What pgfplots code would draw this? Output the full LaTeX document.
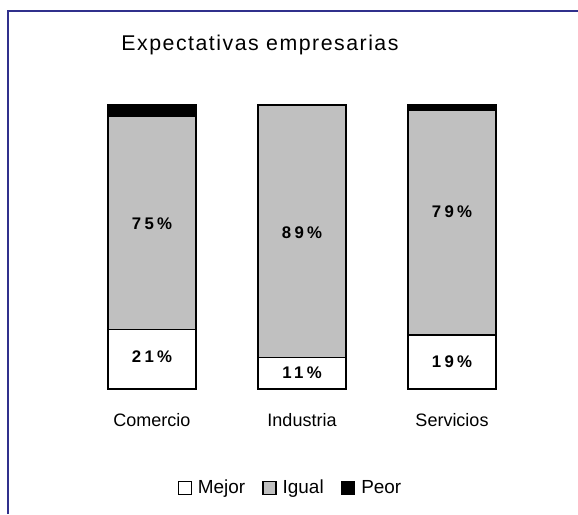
\documentclass[border=0pt]{standalone}
\usepackage{pgfplots}
\pgfplotsset{compat=1.18}
\usepackage{pgfplotstable}
\usepackage{fontspec}
\setmainfont{Liberation Sans}
\newfontfamily\titlefont[LetterSpace=7]{Liberation Sans}
\newfontfamily\labfont[LetterSpace=20]{Liberation Sans Bold}
\definecolor{igualgray}{RGB}{192,192,192}
\definecolor{framebl}{RGB}{48,48,140}
\pgfplotstableread{
x mejor igual peor
0 21 75 4
1 11 89 0
2 19 79 2
}\datatable
\pgfplotstableread{
x y lab
0 11.3 21
1 5.6 11
2 9.5 19
0 58.1 75
1 54.9 89
2 62.3 79
}\labtable
\pgfplotsset{sqlegend/.style={legend image code/.code={\draw[##1,draw=black,line width=0.9pt] (0pt,-4.875pt) rectangle (9.75pt,4.875pt);}}}
\begin{document}
\begin{tikzpicture}
\useasboundingbox (0pt,0pt) rectangle (433.5pt,385.5pt);
\fill[white] (0pt,0pt) rectangle (433.5pt,385.5pt);
\draw[framebl,line width=1.5pt] (6pt,0pt) -- (6pt,377.25pt) -- (433.5pt,377.25pt);
\node[font=\titlefont\fontsize{16}{19}\selectfont] at (195pt,351.75pt) {Expectativas empresarias};
\begin{axis}[
  at={(57.75pt,93.75pt)}, anchor=south west,
  scale only axis, width=337.5pt, height=213pt,
  xmin=-0.5, xmax=2.5, ymin=0, ymax=100,
  ybar stacked, bar width=66pt,
  axis line style={draw=none},
  ytick=\empty,
  xtick={0,1,2}, xticklabels={Comercio,Industria,Servicios},
  major tick length=0pt,
  xticklabel style={font=\fontsize{13.5}{16}\selectfont, anchor=center, yshift=-23.25pt},
  legend style={at={(0.475,-0.349)}, anchor=center, draw=none, fill=none,
    legend columns=-1, font=\fontsize{14.2}{16}\selectfont,
    /tikz/every odd column/.append style={column sep=2.5pt},
    /tikz/every even column/.append style={column sep=11pt}},
]
\addplot[fill=white, draw=black, line width=1pt, sqlegend] table[x=x,y=mejor]{\datatable};
\addplot[fill=igualgray, draw=black, line width=1pt, sqlegend] table[x=x,y=igual]{\datatable};
\addplot[fill=black, draw=black, line width=1pt, sqlegend] table[x=x,y=peor]{\datatable};
\legend{Mejor,Igual,Peor}
\end{axis}
\begin{axis}[
  at={(57.75pt,93.75pt)}, anchor=south west,
  scale only axis, width=337.5pt, height=213pt,
  xmin=-0.5, xmax=2.5, ymin=0, ymax=100,
  hide axis,
]
\addplot[draw=none, mark=none, point meta=explicit symbolic,
  nodes near coords={\labfont\fontsize{12.6}{14}\selectfont\pgfplotspointmeta\%},
  every node near coord/.append style={anchor=center}]
  table[x=x,y=y,meta=lab]{\labtable};
\end{axis}
\end{tikzpicture}
\end{document}
